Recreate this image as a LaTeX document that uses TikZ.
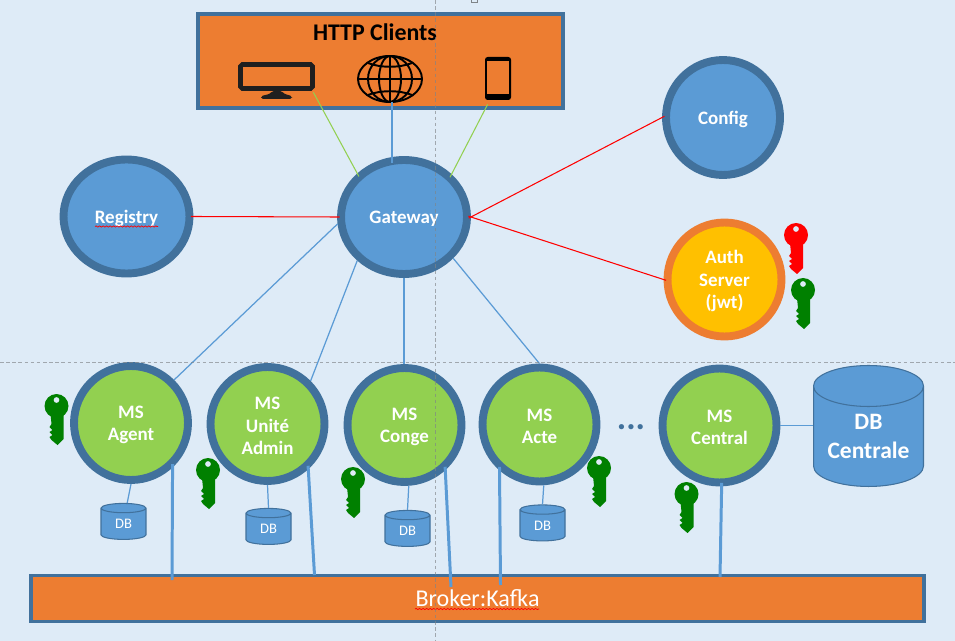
\documentclass[tikz,border=0pt]{standalone}
\usepackage{fontspec}
\setmainfont{Carlito}
\usetikzlibrary{arrows.meta,positioning,calc,shapes.geometric,decorations.pathmorphing}
\definecolor{pageblue}{HTML}{DEEBF7}
\definecolor{ringblue}{HTML}{41719C}
\definecolor{fillblue}{HTML}{5B9BD5}
\definecolor{fillgreen}{HTML}{92D050}
\definecolor{fillorange}{HTML}{ED7D31}
\definecolor{fillamber}{HTML}{FFC000}
\definecolor{keygreen}{HTML}{008000}
\definecolor{guidegray}{HTML}{7F8488}
\definecolor{icondark}{HTML}{1F1F1F}
\newcommand{\dropline}{\rule{0pt}{9.5pt}}
\tikzset{
	hubnode/.style={ellipse,draw=ringblue,fill=fillblue,line width=4.5pt,minimum width=2.52cm,minimum height=2.28cm,inner sep=0pt,text=white,font=\fontsize{10.8}{12.7}\selectfont\bfseries,align=center},
	msnode/.style={hubnode,fill=fillgreen,minimum width=2.28cm,minimum height=2.28cm},
	authnode/.style={msnode,draw=fillorange,fill=fillamber},
	cfgnode/.style={hubnode,minimum width=2.28cm,minimum height=2.3cm},
	dbnode/.style={cylinder,shape border rotate=90,aspect=0.55,draw=ringblue,fill=fillblue,line width=0.6pt,inner sep=0pt,text=white,minimum width=0.9cm,minimum height=0.72cm,align=center,font=\fontsize{8.3}{10}\selectfont},
	boxnode/.style={rectangle,draw=ringblue,fill=fillorange,line width=2pt,inner sep=0pt},
	redlink/.style={draw=red,line width=0.6pt,shorten <=-1.5pt,shorten >=-1.5pt},
	greenlink/.style={draw=fillgreen,line width=0.6pt,shorten >=-2pt},
	bluelink/.style={draw=fillblue,line width=0.7pt},
	buslink/.style={draw=fillblue,line width=1.7pt,shorten <=-2pt},
	guide/.style={draw=guidegray,opacity=0.65,line width=0.4pt,dash pattern=on 2pt off 1.5pt},
	spell/.style={draw=red,line width=0.4pt,decorate,decoration={snake,amplitude=0.35pt,segment length=2pt}},
	pics/keyicon/.style={code={
		\fill[#1,even odd rule] (0,0) circle (12) (0,-6) circle (3);
		\fill[#1] (-6,8) -- (7,8) -- (7,33) -- (1,39) -- (-5,34) -- (-7,31) -- (-4,29) -- (-7,26) -- (-4,24) -- (-7,21) -- (-5,18) -- cycle;
	}}
}
\begin{document}
\begin{tikzpicture}[x=0.02cm,y=-0.02cm]
	\useasboundingbox (0,0) rectangle (955,641);
	\fill[pageblue] (0,0) rectangle (955,641);
	
	% =========================
	% Top: clients
	% =========================
	\node[boxnode,minimum width=7.3cm,minimum height=1.88cm] (clients) at (380.5,61) {};
	\node[font=\fontsize{13.6}{15}\selectfont\bfseries] (clientstitle) at (375,32) {HTTP Clients};
	\node[inner sep=0pt,minimum width=1.44cm,minimum height=0.56cm] (monitor) at (277,78) {};
	\node[inner sep=0pt,minimum width=1.3cm,minimum height=0.92cm] (globe) at (392,79) {};
	\node[inner sep=0pt,minimum width=0.4cm,minimum height=1.02cm] (phone) at (498,78.5) {};
	
	% monitor icon
	\draw[icondark,line width=2.6pt,rounded corners=1pt] (240.5,64.5) rectangle (312.5,88.5);
	\fill[icondark,rounded corners=1pt] (261,99) -- (261,96) .. controls (266,95) and (270,94) .. (272,91) -- (282,91) .. controls (284,94) and (288,95) .. (292,96) -- (292,99) -- cycle;
	
	% globe icon
	\begin{scope}[black,line width=1.1pt]
		\draw (390,79) ellipse (32 and 23);
		\draw (390,79) ellipse (22 and 23);
		\draw (390,79) ellipse (11 and 23);
		\draw (390,56) -- (390,102);
		\draw (358,79) -- (422,79);
		\draw (368,63) .. controls (380,68) and (400,68) .. (412,63);
		\draw (368,95) .. controls (380,90) and (400,90) .. (412,95);
	\end{scope}
	
	% phone icon
	\fill[black,rounded corners=1.5pt] (485,57) rectangle (511,100);
	\fill[fillorange] (487,61) rectangle (509,94);
	
	% =========================
	% Middle: platform services
	% =========================
	\node[hubnode] (gateway) at (404,217) {\dropline Gateway};
	\node[hubnode] (registry) at (126.5,216.5) {\dropline Registry};
	\node[cfgnode] (config) at (723,117.5) {\dropline Config};
	\node[authnode] (auth) at (724.5,279.5) {\dropline Auth\\Server\\(jwt)};
	\draw[spell] (95,226.5) -- (158,226.5);
	
	% =========================
	% Bottom: micro services
	% =========================
	\node[msnode] (agent) at (131,423) {\dropline MS\\Agent};
	\node[msnode] (unite) at (267.5,424) {\dropline MS\\Unité\\Admin};
	\node[msnode] (conge) at (404.5,425) {\dropline MS\\Conge};
	\node[msnode] (acte) at (539.5,424.5) {\dropline MS\\Acte};
	\node[msnode] (central) at (719.5,425.5) {\dropline MS\\Central};
	\node[text=ringblue,font=\fontsize{20}{20}\selectfont\bfseries] (dots) at (631,427.5) {...};
	
	\node[dbnode] (dbagent) at (123.5,524) {DB};
	\node[dbnode] (dbunite) at (268.5,529) {DB};
	\node[dbnode] (dbconge) at (407.5,531) {DB};
	\node[dbnode] (dbacte) at (542.5,525.5) {DB};
	\node[dbnode,aspect=0.5,minimum width=2.2cm,minimum height=2.42cm,font=\fontsize{13.4}{16.5}\selectfont\bfseries] (dbcentrale) at (868.5,436.5) {DB\\Centrale};
	
	\node[boxnode,minimum width=17.86cm,minimum height=0.92cm,text=white,font=\fontsize{13.7}{15}\selectfont] (broker) at (477.5,598.5) {Broker:Kafka};
	\draw[spell] (415,609) -- (539,609);
	
	% keys
	\pic at (796,235) {keyicon=red};
	\pic at (803,290) {keyicon=keygreen};
	\pic at (56.5,406) {keyicon=keygreen};
	\pic at (208,470) {keyicon=keygreen};
	\pic at (353,479) {keyicon=keygreen};
	\pic at (599,468) {keyicon=keygreen};
	\pic at (686.5,494) {keyicon=keygreen};
	
	% =========================
	% Links
	% =========================
	\draw[greenlink] (monitor.south east) -- (gateway.137);
	\draw[bluelink,shorten >=-4pt] (globe.south) -- (gateway.north -| globe.south);
	\draw[greenlink] (phone.south west) -- (gateway.42);
	
	\draw[redlink] (registry.east) -- (gateway.west);
	\draw[redlink] (gateway.east) -- (config.west);
	\draw[redlink] (gateway.east) -- (auth.west);
	
	\draw[bluelink] (gateway.186) -- (agent.45);
	\draw[bluelink] (gateway.223) -- (unite.45);
	\draw[bluelink] (gateway.south) -- (conge.north -| gateway.south);
	\draw[bluelink] (gateway.-40) -- (acte.north);
	
	\draw[bluelink] (agent.south) -- (dbagent.80);
	\draw[bluelink] (unite.south) -- (dbunite.north);
	\draw[bluelink] (conge.-86) -- (dbconge.north);
	\draw[bluelink] (acte.-86) -- (dbacte.north);
	\draw[bluelink] (central.east) -- (dbcentrale.west |- central.east);
	
	\coordinate (busa) at (172,580);
	\coordinate (busb) at (314.5,575);
	\coordinate (busc) at (451,587);
	\coordinate (busd) at (500.5,585);
	\coordinate (buse) at (720,577);
	\draw[buslink] (agent.-47.6) -- (busa);
	\draw[buslink] (unite.-48.4) -- (busb);
	\draw[buslink] (conge.-48.4) -- (busc);
	\draw[buslink] (acte.-131.6) -- (busd);
	\draw[buslink] (central.-88) -- (buse);
	
	% guide lines
	\draw[guide] (0,362) -- (955,362);
	\draw[guide] (435,0) -- (435,641);
	\draw[guidegray,line width=0.4pt] (471,0) -- (471,2) -- (477,2) -- (477,0);
\end{tikzpicture}
\end{document}
